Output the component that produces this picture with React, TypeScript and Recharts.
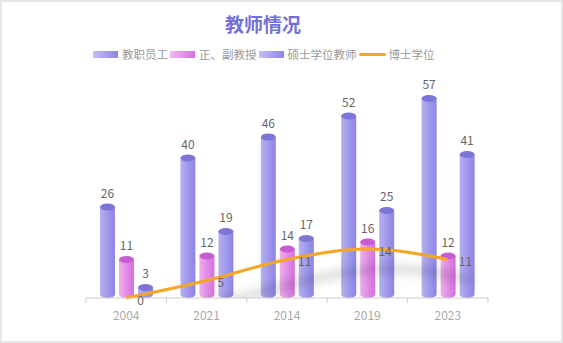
import React from "react";
import {
  ComposedChart,
  Bar,
  Line,
  XAxis,
  YAxis,
  LabelList,
} from "recharts";

const years = ["2004", "2021", "2014", "2019", "2023"];
const staff = [26, 40, 46, 52, 57];
const professors = [11, 12, 14, 16, 12];
const masters = [3, 19, 17, 25, 41];
const doctors = [0, 5, 11, 14, 11];

const chartData = years.map((year, i) => ({
  year,
  staff: staff[i],
  professors: professors[i],
  masters: masters[i],
  doctors: doctors[i],
}));

const FONT = '"Noto Sans CJK SC", "Noto Sans", sans-serif';
const PLOT_LEFT = 86;
const PLOT_RIGHT = 488;
const PLOT_TOP = 88;
const PLOT_BOTTOM = 298;
const BAND = (PLOT_RIGHT - PLOT_LEFT) / years.length;

// cylinder shaped bar, gradient body + darker ellipse on top
const Cylinder = (props: any) => {
  const { x, y, width, height, gradId, topColor } = props;
  if (width == null || height == null || height <= 0) return null;
  const rx = width / 2;
  const ry = 3.5;
  const bottom = y + height;
  const d = `M${x},${y} L${x},${bottom - ry} A${rx},${ry} 0 0 0 ${x + width},${bottom - ry} L${x + width},${y} Z`;
  return (
    <g>
      <path d={d} fill={`url(#${gradId})`} />
      <ellipse cx={x + rx} cy={y} rx={rx} ry={ry} fill={topColor} />
    </g>
  );
};

const BarLabel = (props: any) => {
  const { x, y, width, value } = props;
  return (
    <text
      x={x + width / 2}
      y={y - 15}
      textAnchor="middle"
      dominantBaseline="central"
      fill="#666"
      fontSize={12}
      fontFamily={FONT}
    >
      {value}
    </text>
  );
};

const LineLabel = (props: any) => {
  const { x, y, value } = props;
  return (
    <text
      x={x + 11}
      y={y + 1}
      dominantBaseline="central"
      fill="#666"
      fontSize={12}
      fontFamily={FONT}
    >
      {value}
    </text>
  );
};

const YearTick = (props: any) => {
  const { x, y, payload, index } = props;
  const left = x - BAND / 2;
  return (
    <g>
      <line x1={left} y1={y - 8} x2={left} y2={y - 3} stroke="#ccc" />
      {index === years.length - 1 && (
        <line x1={x + BAND / 2} y1={y - 8} x2={x + BAND / 2} y2={y - 3} stroke="#ccc" />
      )}
      <text
        x={x}
        y={y + 8}
        textAnchor="middle"
        dominantBaseline="central"
        fill="#aaa"
        fontSize={12}
        fontFamily={FONT}
      >
        {payload.value}
      </text>
    </g>
  );
};

const legendItems = [
  { name: "教职员工", kind: "bar", from: "#c6c0f4", to: "#8d84e6" },
  { name: "正、副教授", kind: "bar", from: "#f0bcf0", to: "#d56ee0" },
  { name: "硕士学位教师", kind: "bar", from: "#c6c0f4", to: "#8d84e6" },
  { name: "博士学位", kind: "line", from: "#f5a623", to: "#f5a623" },
];

export default function App() {
  return (
    <div
      style={{
        position: "absolute",
        left: 0,
        top: 0,
        width: 563,
        height: 343,
        boxSizing: "border-box",
        border: "2px solid #e6e6e6",
        background: "#fff",
        fontFamily: FONT,
      }}
    >
      <div
        style={{
          position: "absolute",
          left: 161,
          top: 8,
          width: 200,
          textAlign: "center",
          fontSize: 19,
          fontWeight: 700,
          color: "#7370d8",
        }}
      >
        教师情况
      </div>
      <div
        style={{
          position: "absolute",
          left: 91,
          top: 44,
          display: "flex",
          alignItems: "center",
          fontSize: 11.5,
          color: "#999",
          whiteSpace: "nowrap",
        }}
      >
        {legendItems.map((item) => (
          <div
            key={item.name}
            style={{ display: "flex", alignItems: "center", marginRight: 2 }}
          >
            {item.kind === "bar" ? (
              <span
                style={{
                  display: "inline-block",
                  width: 25,
                  height: 7,
                  marginRight: 4,
                  background: `linear-gradient(to right, ${item.from}, ${item.to})`,
                }}
              />
            ) : (
              <span
                style={{
                  display: "inline-block",
                  width: 27,
                  height: 3,
                  marginRight: 3,
                  background: item.from,
                  borderRadius: 2,
                }}
              />
            )}
            <span>{item.name}</span>
          </div>
        ))}
      </div>
      <div style={{ position: "absolute", left: -2, top: -2 }}>
        <ComposedChart
          width={563}
          height={343}
          data={chartData}
          margin={{ top: PLOT_TOP, right: 563 - PLOT_RIGHT, bottom: 15, left: PLOT_LEFT }}
          barGap={4}
        >
          <defs>
            <linearGradient id="gradPurple" x1="0" y1="0" x2="1" y2="0">
              <stop offset="0%" stopColor="#b6b0f1" />
              <stop offset="100%" stopColor="#8c83e6" />
            </linearGradient>
            <linearGradient id="gradPink" x1="0" y1="0" x2="1" y2="0">
              <stop offset="0%" stopColor="#ecaeec" />
              <stop offset="100%" stopColor="#d66ee0" />
            </linearGradient>
            <filter
              id="lineShadow"
              filterUnits="userSpaceOnUse"
              x={PLOT_LEFT}
              y={PLOT_TOP}
              width={PLOT_RIGHT - PLOT_LEFT}
              height={PLOT_BOTTOM - PLOT_TOP}
            >
              <feGaussianBlur in="SourceAlpha" stdDeviation="5" />
              <feOffset dx="24" dy="20" result="blur" />
              <feFlood floodColor="#000" floodOpacity="0.15" />
              <feComposite in2="blur" operator="in" />
            </filter>
          </defs>
          <XAxis
            dataKey="year"
            height={30}
            axisLine={{ stroke: "#ccc" }}
            tickLine={false}
            tick={<YearTick />}
            interval={0}
          />
          <YAxis hide domain={[0, 60]} />
          <Line
            dataKey="doctors"
            type="monotone"
            stroke="#888"
            strokeWidth={8}
            dot={false}
            activeDot={false}
            filter="url(#lineShadow)"
            isAnimationActive={false}
          />
          <Bar
            dataKey="staff"
            barSize={15}
            shape={<Cylinder gradId="gradPurple" topColor="#7d75d7" />}
            isAnimationActive={false}
          >
            <LabelList dataKey="staff" content={<BarLabel />} />
          </Bar>
          <Bar
            dataKey="professors"
            barSize={15}
            shape={<Cylinder gradId="gradPink" topColor="#c95bd3" />}
            isAnimationActive={false}
          >
            <LabelList dataKey="professors" content={<BarLabel />} />
          </Bar>
          <Bar
            dataKey="masters"
            barSize={15}
            shape={<Cylinder gradId="gradPurple" topColor="#7d75d7" />}
            isAnimationActive={false}
          >
            <LabelList dataKey="masters" content={<BarLabel />} />
          </Bar>
          <Line
            dataKey="doctors"
            type="monotone"
            stroke="#f5a623"
            strokeWidth={3}
            dot={false}
            activeDot={false}
            isAnimationActive={false}
          >
            <LabelList dataKey="doctors" content={<LineLabel />} />
          </Line>
        </ComposedChart>
      </div>
    </div>
  );
}
